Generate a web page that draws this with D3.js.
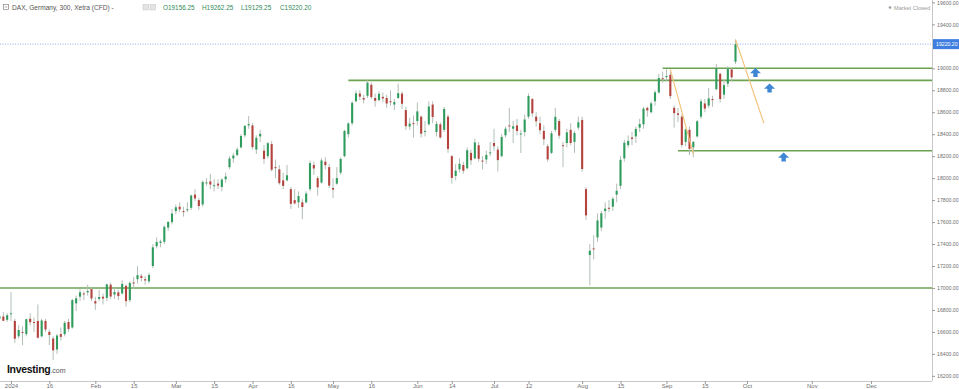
<!DOCTYPE html>
<html>
<head>
<meta charset="utf-8">
<script src="https://cdn.jsdelivr.net/npm/d3@7"></script>
<style>
  html, body { margin: 0; padding: 0; background: #fff; }
  svg { display: block; font-family: "Liberation Sans", Arial, sans-serif; }
</style>
</head>
<body>
<svg id="chart" width="959" height="389"></svg>
<script>
// daily candles, one row per Xetra trading day: [open, high, low, close]
const dec23 = [[16720,16760,16690,16742],[16740,16780,16700,16701],[16710,16770,16690,16752]];
const jan24 = [
  [16760,16962,16700,16769],[16700,16720,16500,16538],[16560,16660,16540,16617],[16600,16650,16480,16594],
  [16580,16720,16560,16716],[16720,16770,16660,16688],[16690,16730,16600,16689],[16700,16850,16540,16547],
  [16560,16720,16550,16704],[16700,16720,16600,16622],[16600,16620,16480,16572],[16540,16560,16345,16432],
  [16440,16580,16400,16567],[16580,16640,16520,16555],[16580,16700,16560,16683],[16690,16720,16600,16627],
  [16640,16900,16630,16890],[16860,16930,16790,16906],[16920,16990,16880,16961],[16950,16970,16890,16942],
  [16960,17030,16930,16972],[16990,17010,16880,16904]
];
const feb24 = [
  [16880,16920,16800,16859],[16900,16980,16880,16918],[16920,16950,16850,16904],[16910,17040,16880,17033],
  [17030,17050,16900,16922],[16940,17000,16900,16964],[16960,16980,16890,16926],[16950,17070,16940,17037],
  [17020,17030,16830,16880],[16890,17060,16870,17046],[17050,17100,16990,17046],[17080,17198,17040,17117],
  [17110,17130,17060,17092],[17080,17110,17030,17068],[17060,17140,17040,17118],[17200,17400,17180,17370],
  [17380,17460,17360,17419],[17410,17440,17370,17423],[17420,17570,17400,17557],[17550,17610,17520,17601],
  [17600,17720,17580,17678]
];
const mar24 = [
  [17700,17760,17670,17735],[17740,17780,17690,17716],[17700,17740,17650,17698],[17710,17780,17690,17717],
  [17730,17850,17710,17842],[17850,17900,17790,17815],[17800,17820,17710,17746],[17760,17980,17740,17965],
  [17960,18000,17930,17961],[17970,18040,17900,17942],[17930,17990,17880,17936],[17950,17990,17900,17933],
  [17920,18000,17880,17987],[17990,18050,17960,18015],[18100,18200,18080,18179],[18180,18230,18140,18206],
  [18210,18280,18200,18261],[18280,18400,18270,18384],[18390,18480,18370,18477],[18480,18567,18450,18492]
];
const apr24 = [
  [18480,18500,18260,18283],[18260,18390,18220,18367],[18380,18440,18330,18403],[18250,18300,18130,18175],
  [18200,18330,18180,18318],[18310,18340,18060,18077],[18100,18170,18000,18097],[18080,18120,17940,17954],
  [17980,18050,17900,17930],[17980,18120,17970,18026],[17900,17920,17720,17766],[17800,17900,17760,17770],
  [17780,17880,17730,17837],[17780,17810,17626,17737],[17780,17880,17770,17860],[17900,18160,17880,18137],
  [18120,18150,18030,18088],[18000,18020,17840,17917],[17960,18180,17950,18161],[18150,18190,18080,18118],
  [18100,18130,17910,17932]
];
const may24 = [
  [17910,18000,17820,17896],[17950,18100,17940,18001],[18050,18190,18030,18175],[18200,18440,18190,18430],
  [18400,18510,18370,18498],[18500,18700,18480,18686],[18700,18800,18690,18773],[18770,18800,18710,18742],
  [18730,18760,18680,18716],[18750,18892,18730,18869],[18850,18870,18720,18738],[18730,18770,18650,18704],
  [18710,18790,18700,18768],[18740,18780,18690,18726],[18730,18760,18640,18680],[18700,18800,18660,18691],
  [18670,18720,18620,18693],[18730,18860,18720,18774],[18770,18790,18630,18677],[18620,18650,18440,18473],
  [18470,18550,18440,18496],[18500,18570,18370,18498]
];
const jun24 = [
  [18520,18690,18480,18608],[18560,18570,18370,18405],[18430,18520,18380,18430],[18490,18700,18480,18652],
  [18670,18700,18500,18557],[18420,18520,18380,18494],[18490,18510,18360,18370],[18440,18650,18420,18630],
  [18560,18580,18230,18266],[18200,18210,17950,18002],[18020,18130,17980,18068],[18080,18180,18050,18131],
  [18120,18150,18040,18067],[18090,18280,18080,18254],[18230,18260,18120,18163],[18180,18360,18170,18325],
  [18300,18330,18150,18176],[18160,18200,18080,18155],[18170,18250,18130,18211],[18230,18330,18200,18235]
];
const jul24 = [
  [18320,18450,18250,18291],[18260,18290,18060,18164],[18200,18400,18190,18375],[18390,18470,18370,18450],
  [18480,18640,18420,18475],[18450,18520,18320,18472],[18480,18540,18390,18429],[18400,18440,18230,18407],
  [18420,18580,18380,18534],[18560,18770,18540,18748],[18720,18730,18560,18590],[18560,18600,18470,18518],
  [18500,18560,18400,18437],[18430,18480,18300,18354],[18290,18310,18150,18171],[18230,18430,18220,18408],
  [18440,18640,18420,18558],[18520,18540,18360,18387],[18300,18330,18100,18299],[18320,18450,18280,18417],
  [18440,18500,18300,18320],[18330,18430,18230,18411],[18460,18560,18440,18509]
];
const aug24 = [
  [18530,18560,18060,18083],[17900,17920,17620,17661],[17300,17400,17024,17339],[17360,17480,17260,17354],
  [17460,17680,17420,17615],[17550,17700,17520,17680],[17700,17780,17630,17723],[17730,17800,17690,17726],
  [17740,17830,17700,17812],[17850,17950,17780,17885],[17930,18200,17900,18167],[18180,18350,18150,18322],
  [18300,18390,18280,18339],[18370,18420,18300,18357],[18380,18470,18320,18448],[18460,18540,18420,18493],
  [18490,18650,18450,18633],[18640,18650,18560,18617],[18600,18700,18590,18681],[18700,18800,18660,18782],
  [18780,18950,18770,18912],[18910,18970,18870,18906]
];
const sep24 = [
  [18920,18990,18880,18930],[18940,18970,18720,18747],[18640,18660,18460,18592],[18590,18640,18510,18576],
  [18560,18580,18280,18302],[18330,18450,18290,18443],[18440,18470,18210,18266],[18280,18340,18190,18330],
  [18380,18530,18370,18518],[18560,18720,18540,18699],[18680,18720,18600,18633],[18660,18820,18640,18726],
  [18720,18750,18650,18711],[18810,19040,18800,19002],[18950,18960,18690,18720],[18760,18900,18720,18847],
  [18860,19020,18830,18997],[18990,19000,18880,18918],[19060,19262,19040,19220]
];

const holidays = ["2024-01-01", "2024-03-29", "2024-04-01", "2024-05-01", "2024-12-24", "2024-12-25", "2024-12-26", "2024-12-31"];

const tickLabels = ["2024", "16", "Feb", "15", "Mar", "15", "Apr", "16", "May", "16", "Jun", "14", "Jul", "12", "Aug", "15", "Sep", "15", "Oct", "Nov", "Dec"];
const tickDates = ["2024-01-02", "2024-01-16", "2024-02-01", "2024-02-15", "2024-03-01", "2024-03-15", "2024-04-02", "2024-04-16",
  "2024-05-02", "2024-05-16", "2024-06-03", "2024-06-14", "2024-07-01", "2024-07-12", "2024-08-01", "2024-08-15",
  "2024-09-02", "2024-09-16", "2024-10-01", "2024-11-01", "2024-12-02"];
const priceTicks = d3.range(16200, 19601, 200);

// drawn support / resistance levels
const levelPrices = [17000, 18890, 19000, 18250];
const levelStarts = ["2023-12-27", "2024-05-08", "2024-08-30", "2024-09-05"];

// tan trend lines
const trendStartDates = ["2024-09-03", "2024-09-26"];
const trendStartPrices = [18990, 19262];
const trendEndDates = ["2024-09-11", "2024-10-09"];
const trendEndPrices = [18220, 18500];

// blue up arrows
const arrowDates = ["2024-10-04", "2024-10-11", "2024-10-18"];
const arrowPrices = [18962, 18821, 18193];

const instrument = "DAX, Germany, 300, Xetra (CFD)";
const lastOpen = 19156.25, lastHigh = 19262.25, lastLow = 19129.25, lastClose = 19220.20;

const svg = d3.select("#chart");
const plotW = 932, plotH = 381;

const fmt = d3.timeFormat("%Y-%m-%d");
const parse = d3.timeParse("%Y-%m-%d");
const days = d3.timeDays(parse("2023-12-27"), parse("2025-01-01"))
  .filter(d => d.getDay() !== 0 && d.getDay() !== 6 && !holidays.includes(fmt(d)))
  .map(fmt);
function dayIndex(s) {
  let i = days.indexOf(s);
  if (i < 0) i = days.findIndex(d => d > s);
  return i;
}

const candles = [].concat(dec23, jan24, feb24, mar24, apr24, may24, jun24, jul24, aug24, sep24)
  .map((c, i) => ({ i, open: c[0], high: c[1], low: c[2], close: c[3] }));

// future bars are spaced tighter than the traded ones
const x = d3.scaleLinear()
  .domain([dayIndex("2024-01-02"), dayIndex("2024-10-01"), dayIndex("2024-12-02")])
  .range([11, 747, 871]);

const y = d3.scaleLinear()
  .domain([16153, 19622])
  .range([plotH, 0]);

svg.append("clipPath").attr("id", "plotClip")
  .append("rect").attr("x", 0).attr("y", 0).attr("width", plotW).attr("height", plotH);

const plot = svg.append("g").attr("clip-path", "url(#plotClip)");

// current price dotted line
plot.append("line")
  .attr("x1", 0).attr("x2", plotW)
  .attr("y1", y(lastClose)).attr("y2", y(lastClose))
  .attr("stroke", "#9aa6ee")
  .attr("stroke-width", 1)
  .attr("stroke-dasharray", "1,1.5");

// horizontal levels
plot.selectAll(".level")
  .data(levelPrices)
  .enter().append("line")
  .attr("class", "level")
  .attr("x1", (d, i) => Math.max(0, x(dayIndex(levelStarts[i]))))
  .attr("x2", plotW)
  .attr("y1", d => y(d))
  .attr("y2", d => y(d))
  .attr("stroke", "#6ba353")
  .attr("stroke-width", 1.6);

// candles
const upColor = "#2f9c5d", downColor = "#b4433d";
const bodyW = 2.1;

plot.selectAll(".wick")
  .data(candles)
  .enter().append("line")
  .attr("class", "wick")
  .attr("x1", d => x(d.i)).attr("x2", d => x(d.i))
  .attr("y1", d => y(d.high)).attr("y2", d => y(d.low))
  .attr("stroke", "#b3bfb6")
  .attr("stroke-width", 1);

plot.selectAll(".body")
  .data(candles)
  .enter().append("rect")
  .attr("class", "body")
  .attr("x", d => x(d.i) - bodyW / 2)
  .attr("y", d => y(Math.max(d.open, d.close)))
  .attr("width", bodyW)
  .attr("height", d => Math.max(1, Math.abs(y(d.open) - y(d.close))))
  .attr("fill", d => d.close >= d.open ? upColor : downColor);

// trend lines
plot.selectAll(".trend")
  .data(trendStartDates)
  .enter().append("line")
  .attr("class", "trend")
  .attr("x1", d => x(dayIndex(d)))
  .attr("y1", (d, i) => y(trendStartPrices[i]))
  .attr("x2", (d, i) => x(dayIndex(trendEndDates[i])))
  .attr("y2", (d, i) => y(trendEndPrices[i]))
  .attr("stroke", "#efc27a")
  .attr("stroke-width", 1.1);

// arrows
plot.selectAll(".arrow")
  .data(arrowDates)
  .enter().append("path")
  .attr("class", "arrow")
  .attr("transform", (d, i) => `translate(${x(dayIndex(d))},${y(arrowPrices[i])})`)
  .attr("d", "M0,-4.5 L5.5,0.8 L2.2,0.8 L2.2,4.5 L-2.2,4.5 L-2.2,0.8 L-5.5,0.8 Z")
  .attr("fill", "#3f86d4");

// axes
const axisColor = "#c8c8c8", labelColor = "#6f6f6f";

svg.append("line")
  .attr("x1", plotW + 0.5).attr("x2", plotW + 0.5)
  .attr("y1", 0).attr("y2", plotH)
  .attr("stroke", axisColor);
svg.append("line")
  .attr("x1", 0).attr("x2", plotW)
  .attr("y1", plotH + 0.5).attr("y2", plotH + 0.5)
  .attr("stroke", axisColor);

// the price tag covers the tick closest to the last price
const yAxis = svg.append("g")
  .attr("transform", `translate(${plotW},0)`)
  .call(d3.axisRight(y)
    .tickValues(priceTicks.filter(d => Math.abs(y(d) - y(lastClose)) > 7))
    .tickFormat(d => d.toFixed(2))
    .tickSize(3).tickPadding(2));
yAxis.select(".domain").remove();
yAxis.selectAll("line").attr("stroke", "#999");
yAxis.selectAll("text").attr("fill", labelColor).style("font-size", "5.2px");

const xAxis = svg.append("g")
  .attr("transform", `translate(0,${plotH})`)
  .call(d3.axisBottom(x).tickValues(tickDates.map(dayIndex)).tickFormat((d, i) => tickLabels[i]).tickSize(3).tickPadding(0));
xAxis.select(".domain").remove();
xAxis.selectAll("line").attr("stroke", "#999");
xAxis.selectAll("text").attr("fill", labelColor).style("font-size", "6px");

// last price tag
svg.append("rect")
  .attr("x", plotW + 1).attr("y", y(lastClose) - 5)
  .attr("width", 27).attr("height", 10)
  .attr("fill", "#3d7ee0");
svg.append("text")
  .attr("x", plotW + 4).attr("y", y(lastClose) + 2)
  .attr("fill", "#fff")
  .style("font-size", "5.2px")
  .text(lastClose.toFixed(2));

// header
svg.append("rect")
  .attr("x", 3.5).attr("y", 4.5).attr("width", 5).attr("height", 5)
  .attr("fill", "none").attr("stroke", "#888").attr("stroke-width", 0.7);
svg.append("line")
  .attr("x1", 4.8).attr("x2", 7.2).attr("y1", 7).attr("y2", 7)
  .attr("stroke", "#888").attr("stroke-width", 0.7);
svg.append("text")
  .attr("x", 12).attr("y", 9.5)
  .attr("fill", "#555")
  .style("font-size", "6.6px")
  .text(instrument + "  -");
[143, 150].forEach(px => {
  svg.append("rect")
    .attr("x", px).attr("y", 4.5).attr("width", 5.5).attr("height", 5.5)
    .attr("fill", "#e4e4e4").attr("stroke", "#c4c4c4").attr("stroke-width", 0.5);
});
const ohlcText = [["O", lastOpen], ["H", lastHigh], ["L", lastLow], ["C", lastClose]];
svg.selectAll(".ohlc")
  .data(ohlcText)
  .enter().append("text")
  .attr("class", "ohlc")
  .attr("x", (d, i) => 163 + i * 39)
  .attr("y", 9.5)
  .attr("fill", "#2f8a57")
  .style("font-size", "6.4px")
  .text(d => d[0] + d[1].toFixed(2));

svg.append("circle")
  .attr("cx", 890).attr("cy", 7.5).attr("r", 1.3).attr("fill", "#999");
svg.append("text")
  .attr("x", 894).attr("y", 9.5)
  .attr("fill", "#9a9a9a")
  .style("font-size", "5.6px")
  .text("Market Closed");

// logo
const logo = svg.append("text").attr("x", 7).attr("y", 373);
logo.append("tspan")
  .attr("fill", "#111")
  .style("font-size", "10.5px")
  .style("font-weight", "bold")
  .style("letter-spacing", "-0.3px")
  .text("Investing");
logo.append("tspan")
  .attr("fill", "#555")
  .style("font-size", "7px")
  .text(".com");
</script>
</body>
</html>
